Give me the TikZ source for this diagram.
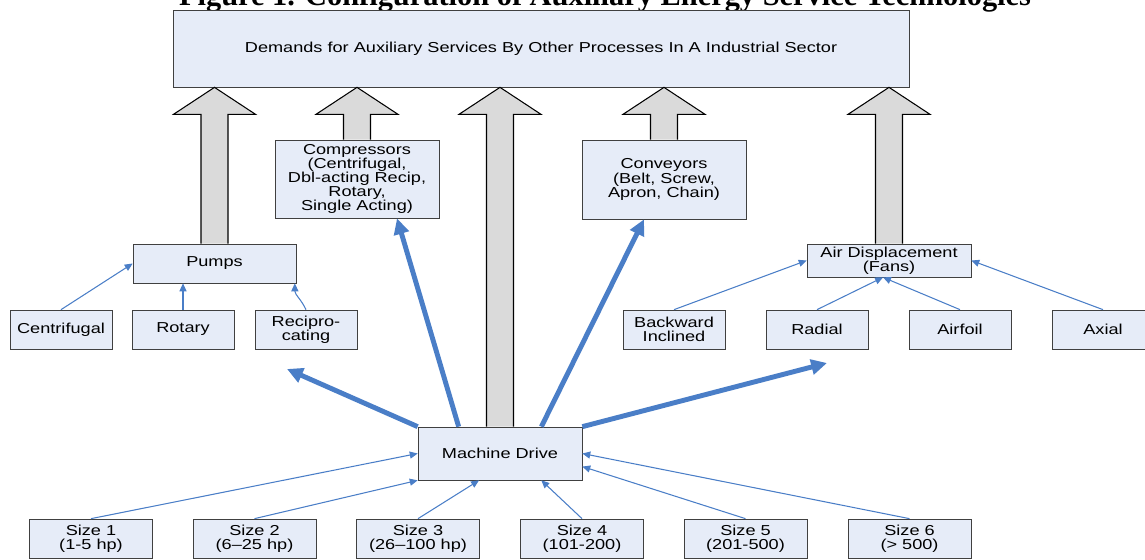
\documentclass[tikz,border=0pt]{standalone}
\usepackage{fontspec}
\setmainfont{Liberation Sans}[FakeStretch=1.26]
\newfontfamily\titlefont{Liberation Serif}
\usetikzlibrary{arrows.meta,calc}
\definecolor{boxfill}{RGB}{230,236,248}
\definecolor{boxline}{RGB}{64,64,64}
\definecolor{linkblue}{RGB}{74,126,199}
\definecolor{feedgray}{RGB}{218,218,218}
\newcommand{\serviceup}[1]{%
  \filldraw[service] let \p1=(#1.north), \p2=(demand.south) in
    (\x1-0.27cm,\y1) -- (\x1-0.27cm,\y2-0.54cm) -- (\x1-0.82cm,\y2-0.54cm) -- (\x1,\y2)
    -- (\x1+0.82cm,\y2-0.54cm) -- (\x1+0.27cm,\y2-0.54cm) -- (\x1+0.27cm,\y1);}

\begin{document}
\begin{tikzpicture}[x=0.02cm,y=-0.02cm,>={Triangle[length=4.5pt,width=4pt]},
      box/.style={rectangle, draw=boxline, fill=boxfill, inner sep=0pt, align=center, font=\fontsize{8.2}{8}\selectfont},
      kind/.style={box, minimum width=2.04cm, minimum height=0.78cm},
      size box/.style={box, minimum width=2.46cm, minimum height=0.78cm},
      feeder/.style={->, linkblue, line width=0.6pt},
      drive link/.style={-{Triangle[length=9pt,width=8.5pt]}, linkblue, line width=2.8pt},
      service/.style={draw=black, fill=feedgray, line width=0.6pt}]
    \useasboundingbox (0,0) rectangle (1145,560);

    \node[font=\titlefont\bfseries\fontsize{17.3}{17}\selectfont, anchor=base] (title) at (605,6) {Figure 1. Configuration of Auxiliary Energy Service Technologies};
    \node[box, minimum width=14.72cm, minimum height=1.54cm] (demand) at (541,48.5) {Demands for Auxiliary Services By Other Processes In A Industrial Sector};

    \node[box, minimum width=3.26cm, minimum height=0.78cm] (pumps) at (214.5,263.5) {Pumps};
    \node[box, minimum width=3.28cm, minimum height=1.56cm] (compressors) at (357,179) {Compressors\\(Centrifugal,\\Dbl-acting Recip,\\Rotary,\\Single Acting)};
    \node[box, minimum width=3.28cm, minimum height=1.58cm] (conveyors) at (664,179.5) {Conveyors\\(Belt, Screw,\\Apron, Chain)};
    \node[box, minimum width=3.28cm, minimum height=0.66cm] (fans) at (889,260.5) {Air Displacement\\(Fans)};
    \node[box, minimum width=3.28cm, minimum height=1.06cm] (drive) at (500,453.5) {Machine Drive};

    \node[kind] (centrifugal) at (61,329.5) {Centrifugal};
    \node[kind] (rotary) at (183,329.5) {Rotary};
    \node[kind] (recip) at (306,329.5) {Recipro-\\cating};
    \node[kind] (backward) at (674,329.5) {Backward\\Inclined};
    \node[kind] (radial) at (817,329.5) {Radial};
    \node[kind] (airfoil) at (960,329.5) {Airfoil};
    \node[kind] (axial) at (1103,329.5) {Axial};

    \foreach \n/\x/\r/\a in {1/91/1-5 hp/west, 2/254.5/6–25 hp/south west, 3/418/26–100 hp/232,
        4/582/101-200/327, 5/745.5/201-500/351, 6/909.5/> 500/east} {
      \node[size box] (size\n) at (\x,538.5) {Size \n\\(\r)};
      \draw[feeder] (size\n.north) -- (drive.\a);
    }

    \serviceup{pumps}
    \serviceup{compressors}
    \serviceup{drive}
    \serviceup{conveyors}
    \serviceup{fans}

    \coordinate (pumpside) at (287,369);
    \coordinate (fanside) at (827,363);
    \draw[drive link] (drive.north west) -- (pumpside);
    \draw[drive link] (drive.147) -- ([xshift=0.8cm]compressors.south);
    \draw[drive link] (drive.33) -- ([xshift=-0.4cm]conveyors.south);
    \draw[drive link] (drive.north east) -- (fanside);

    \draw[feeder] (centrifugal.north) -- (pumps.west);
    \draw[feeder] (rotary.north) -- (rotary.north |- pumps.south);
    \draw[feeder] (recip.north) to[out=115,in=-90] ([xshift=-0.03cm]pumps.south east);

    \draw[feeder] (backward.north) -- (fans.west);
    \draw[feeder] (radial.north) -- ([xshift=-0.12cm]fans.south);
    \draw[feeder] (airfoil.north) -- ([xshift=-0.12cm]fans.south);
    \draw[feeder] (axial.north) -- (fans.east);
\end{tikzpicture}
\end{document}
